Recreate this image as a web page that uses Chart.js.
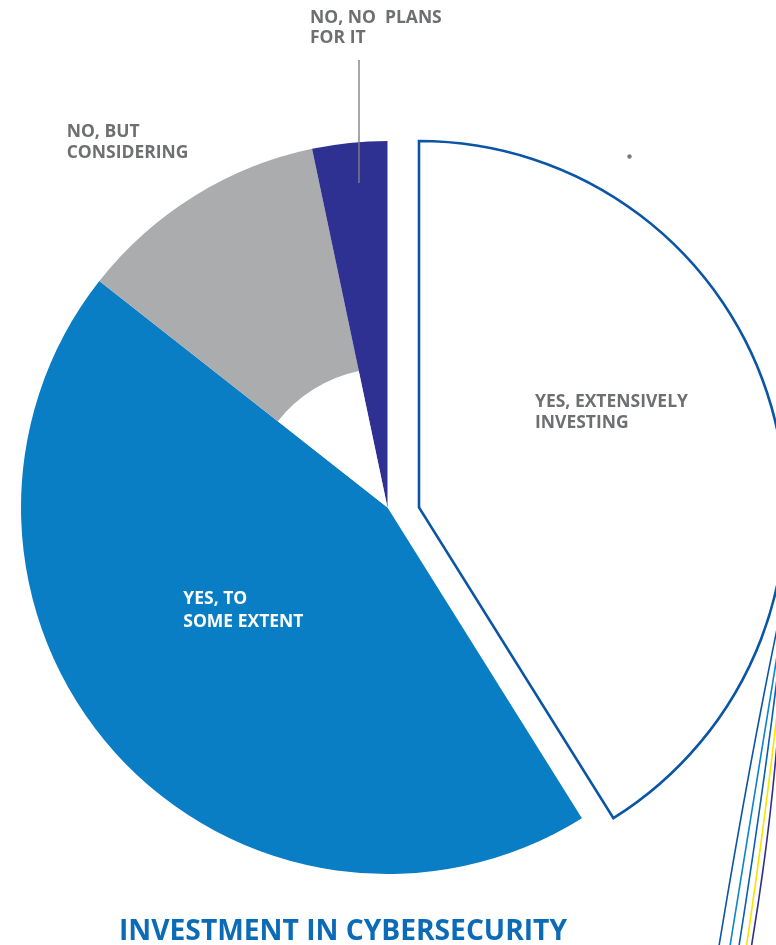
<!DOCTYPE html>
<html>
<head>
<meta charset="utf-8">
<script src="https://cdn.jsdelivr.net/npm/chart.js@4.4.1/dist/chart.umd.min.js"></script>
<style>
  html, body { margin: 0; padding: 0; background: #ffffff; overflow: hidden; }
  #stage { position: relative; width: 776px; height: 945px; overflow: hidden; }
  #stage canvas { position: absolute; left: 0; top: 0; }
  #deco { position: absolute; left: 0; top: 0; }
</style>
</head>
<body>
<div id="stage">
  <canvas id="pieMain" width="776" height="1015"></canvas>
  <canvas id="pieHole" width="776" height="1015"></canvas>
  <canvas id="pieLifted" width="776" height="1015"></canvas>
  <svg id="deco" width="776" height="945" viewBox="0 0 776 945">
    <circle cx="629.5" cy="156.5" r="2.2" fill="#7a7a7a"/>
    <g fill="none" stroke-width="1.6">
      <path d="M777 629 Q 748 770 719 946" stroke="#0a55a6"/>
      <path d="M777 656 Q 755 790 730 946" stroke="#0a84cc"/>
      <path d="M777 679 Q 762 800 739 946" stroke="#0a5fae"/>
      <path d="M777 714 Q 765 820 746.5 946" stroke="#ffe100"/>
      <path d="M777 744 Q 769 840 751.5 946" stroke="#322d8c"/>
    </g>
  </svg>
</div>
<script>
// Survey answers, clockwise from 12 o'clock
const categories = [
  'YES, EXTENSIVELY INVESTING',
  'YES, TO SOME EXTENT',
  'NO, BUT CONSIDERING',
  'NO, NO  PLANS FOR IT'
];
const shares = [41.1, 44.5, 11.1, 3.3];
const labelLines = [
  ['YES, EXTENSIVELY', 'INVESTING'],
  ['YES, TO', 'SOME EXTENT'],
  ['NO, BUT', 'CONSIDERING'],
  ['NO, NO  PLANS', 'FOR IT']
];
const chartTitle = 'INVESTMENT IN CYBERSECURITY';

const NONE = 'rgba(0,0,0,0)';
const BLUE = '#0a7ec5';
const GREY = '#abacae';
const NAVY = '#2e3192';
const EDGE = '#0a55a6';
const LABEL_GREY = '#6e6f71';
const OUTER_R = 366.5;
const HOLE_R = 139.5;   // the "considering" slice is hollow up to this radius

// label placement relative to the centre of the pie that draws the slice
const labelStyle = [
  { dx: 116, dy: -100.8, color: LABEL_GREY, lh: 21.6 },
  { dx: -204.2, dy: 96.8, color: '#ffffff', lh: 23 },
  { dx: -320.8, dy: -370.8, color: LABEL_GREY, lh: 21.6 },
  { dx: -77.5, dy: -484.8, color: LABEL_GREY, lh: 20.6 }
];

function drawLabel(ctx, arc, i) {
  const s = labelStyle[i];
  ctx.save();
  ctx.font = '700 17.5px "Open Sans"';
  ctx.fillStyle = s.color;
  ctx.textAlign = 'left';
  ctx.textBaseline = 'alphabetic';
  labelLines[i].forEach((t, k) => ctx.fillText(t, arc.x + s.dx, arc.y + s.dy + k * s.lh));
  ctx.restore();
}

const mainLabels = {
  id: 'mainLabels',
  afterDatasetsDraw(chart) {
    const ctx = chart.ctx;
    const arcs = chart.getDatasetMeta(0).data;
    const c = arcs[0];
    [1, 2, 3].forEach(i => drawLabel(ctx, arcs[i], i));
    // leader from the small slice up to its label
    ctx.save();
    ctx.strokeStyle = '#808080';
    ctx.lineWidth = 1.4;
    ctx.beginPath();
    ctx.moveTo(c.x - 28.5, c.y - 447.5);
    ctx.lineTo(c.x - 28.5, c.y - 324.5);
    ctx.stroke();
    // chart title
    ctx.font = '700 28.2px "Open Sans"';
    ctx.fillStyle = '#0c6bb6';
    ctx.textBaseline = 'alphabetic';
    ctx.fillText(chartTitle, 119, 940);
    ctx.restore();
  }
};

const liftedLabel = {
  id: 'liftedLabel',
  afterDatasetsDraw(chart) {
    drawLabel(chart.ctx, chart.getDatasetMeta(0).data[0], 0);
  }
};

const common = {
  responsive: false,
  animation: false,
  events: [],
  cutout: 0,
  rotation: 0,
  plugins: { legend: { display: false }, tooltip: { enabled: false } }
};
const mainPadding = { left: 0, right: 1, top: 0, bottom: 0 };

function start() {
  // main pie, the lifted slice left empty here
  new Chart(document.getElementById('pieMain'), {
    type: 'pie',
    data: {
      labels: categories,
      datasets: [{
        data: shares,
        backgroundColor: [NONE, BLUE, GREY, NAVY],
        borderWidth: 0
      }]
    },
    options: Object.assign({}, common, { radius: OUTER_R, layout: { padding: mainPadding } }),
    plugins: [mainLabels]
  });

  // hollow centre of the "considering" slice
  new Chart(document.getElementById('pieHole'), {
    type: 'pie',
    data: {
      labels: categories,
      datasets: [{
        data: shares,
        backgroundColor: [NONE, NONE, '#ffffff', NONE],
        borderWidth: 0
      }]
    },
    options: Object.assign({}, common, { radius: HOLE_R, layout: { padding: mainPadding } })
  });

  // the pulled-out slice, outlined
  new Chart(document.getElementById('pieLifted'), {
    type: 'pie',
    data: {
      labels: categories,
      datasets: [{
        data: shares,
        backgroundColor: ['#ffffff', NONE, NONE, NONE],
        borderColor: [EDGE, NONE, NONE, NONE],
        borderWidth: [2.6, 0, 0, 0],
        borderJoinStyle: 'miter',
        borderAlign: 'center'
      }]
    },
    options: Object.assign({}, common, {
      radius: OUTER_R,
      layout: { padding: { left: 62, right: 0, top: 0, bottom: 0 } }
    }),
    plugins: [liftedLabel]
  });
}

if (document.fonts && document.fonts.load) {
  Promise.all([
    document.fonts.load('700 17.5px "Open Sans"'),
    document.fonts.load('700 28.2px "Open Sans"')
  ]).then(start, start);
} else {
  start();
}
</script>
</body>
</html>
